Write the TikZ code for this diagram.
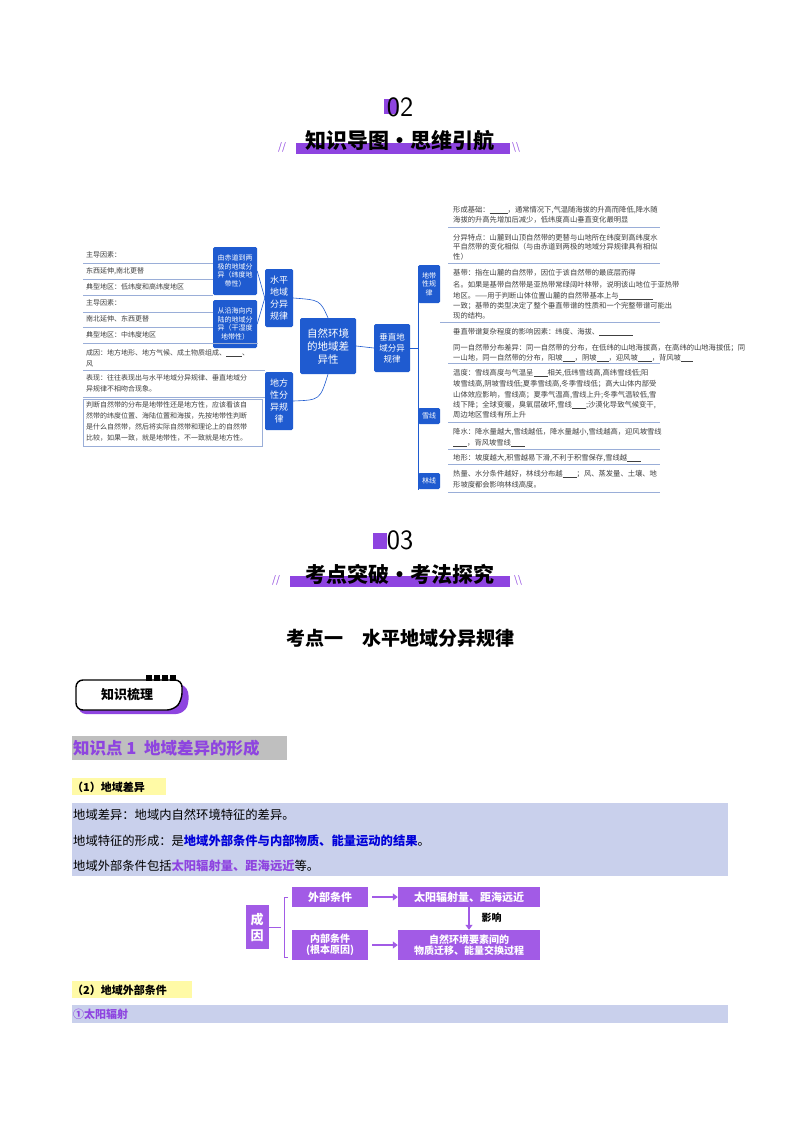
\documentclass[tikz,border=0pt]{standalone}
\usepackage{fontspec}
\setmainfont{Noto Sans CJK SC}
\usetikzlibrary{arrows.meta}
\definecolor{mb}{HTML}{1F5BD0}
\definecolor{pu}{HTML}{8E44E0}
\definecolor{fp}{HTML}{A25BE6}
\definecolor{lav}{HTML}{C9D0EC}
\definecolor{ln}{HTML}{9AAED8}
\newcommand\bk[1]{\rule[-1pt]{#1pt}{0.5pt}}
\begin{document}
\begin{tikzpicture}[x=1pt,y=-1pt,
  tl/.style={anchor=west,inner sep=0pt,font=\fontsize{7}{8}\selectfont,text=black!75},
  tr/.style={anchor=west,inner sep=0pt,font=\fontsize{7.3}{8}\selectfont,text=black!75},
  bb/.style={fill=mb,text=white,rounded corners=1.5pt,align=center,inner sep=1pt,font=\fontsize{7}{8.5}\selectfont},
  sep/.style={draw=ln,line width=0.5pt},
  fb/.style={fill=fp,text=white,align=center,inner sep=0pt,font=\bfseries\fontsize{11}{12.5}\selectfont},
  bt/.style={anchor=west,inner sep=0pt,font=\fontsize{12.3}{14}\selectfont}]
\useasboundingbox (0,0) rectangle (800,1132);
\fill[white] (0,0) rectangle (800,1132);

% ===== heading 02 =====
\fill[pu] (384,99) rectangle (397,114);
\node (n02) at (400,107) {\fontsize{28}{28}\selectfont\textsf{02}};
\fill[pu] (296,143) rectangle (510,154);
\node (h02) at (400,141) {\bfseries\fontsize{21}{22}\selectfont 知识导图·思维引航};
\node (sl1) at (282,147) {\textcolor{pu}{\fontsize{10}{10}\selectfont\textit{//}}};
\node (sl2) at (516,147) {\textcolor{pu}{\fontsize{10}{10}\selectfont\textit{\textbackslash\textbackslash}}};

% ===== mind map center =====
\node[bb,minimum width=56pt,minimum height=56pt,font=\fontsize{10.5}{13}\selectfont] (c) at (328,346) {自然环境\\的地域差\\异性};
\node[bb,minimum width=28pt,minimum height=58pt,font=\fontsize{9}{12}\selectfont] (hz) at (279,298) {水平\\地域\\分异\\规律};
\node[bb,minimum width=28pt,minimum height=58pt,font=\fontsize{9}{12}\selectfont] (df) at (279,401) {地方\\性分\\异规\\律};
\node[bb,minimum width=36pt,minimum height=48pt,font=\fontsize{8.5}{11}\selectfont] (cz) at (392,348) {垂直地\\域分异\\规律};
\node[bb,minimum width=44pt,minimum height=48pt] (wd) at (235,271) {由赤道到两\\极的地域分\\异（纬度地\\带性）};
\node[bb,minimum width=44pt,minimum height=48pt] (gs) at (235,324) {从沿海向内\\陆的地域分\\异（干湿度\\地带性）};
\draw[mb,line width=0.6pt] (hz.east) .. controls (320,300) .. (c.north);
\draw[mb,line width=0.6pt] (df.east) .. controls (320,400) .. (c.south);
\draw[mb,line width=0.6pt] (c.east) -- (cz.west);
\draw[mb,line width=0.6pt] (wd.east) -- (hz.west);
\draw[mb,line width=0.6pt] (gs.east) -- (hz.west);

% left texts
\node[tl] (l1) at (86,255) {主导因素：};
\node[tl] (l2) at (86,271) {东西延伸,南北更替};
\node[tl] (l3) at (86,287) {典型地区：低纬度和高纬度地区};
\node[tl] (l4) at (86,303) {主导因素：};
\node[tl] (l5) at (86,319) {南北延伸、东西更替};
\node[tl] (l6) at (86,335) {典型地区：中纬度地区};
\draw[sep] (83,263) -- (213,263); \draw[sep] (83,279) -- (213,279);
\draw[sep] (83,295) -- (213,295); \draw[sep] (83,312) -- (213,312);
\draw[sep] (83,327) -- (213,327); \draw[sep] (83,343) -- (258,343);
\node[tl] (l7) at (86,353) {成因：地方地形、地方气候、成土物质组成、\bk{16}、};
\node[tl] (l8) at (86,364) {风};
\draw[sep] (83,370) -- (265,370);
\node[tl] (l9) at (86,378) {表现：往往表现出与水平地域分异规律、垂直地域分};
\node[tl] (l10) at (86,389) {异规律不相吻合现象。};
\draw[sep] (83,397) -- (265,397);
\node[tl] (l11) at (86,405) {判断自然带的分布是地带性还是地方性，应该看该自};
\node[tl] (l12) at (86,416) {然带的纬度位置、海陆位置和海拔，先按地带性判断};
\node[tl] (l13) at (86,427) {是什么自然带，然后将实际自然带和理论上的自然带};
\node[tl] (l14) at (86,438) {比较，如果一致，就是地带性，不一致就是地方性。};
\draw[sep] (83,399) rectangle (262,446);

% right side
\draw[mb,line width=0.6pt] (418,266) -- (418,490);
\draw[mb,line width=0.6pt] (cz.east) -- (418,348);
\node[bb,minimum width=22pt,minimum height=38pt] (dd) at (429,284) {地带\\性规\\律};
\node[bb,minimum width=22pt,minimum height=16pt] (xx) at (429,416) {雪线};
\node[bb,minimum width=22pt,minimum height=16pt] (lx) at (429,481) {林线};
\node[tr] (r1) at (453,210) {形成基础：\bk{18}，通常情况下,气温随海拔的升高而降低,降水随};
\node[tr] (r2) at (453,220) {海拔的升高先增加后减少，低纬度高山垂直变化最明显};
\draw[sep] (448,227) -- (660,227);
\node[tr] (r3) at (453,238) {分异特点：山麓到山顶自然带的更替与山地所在纬度到高纬度水};
\node[tr] (r4) at (453,247) {平自然带的变化相似（与由赤道到两极的地域分异规律具有相似};
\node[tr] (r5) at (453,257) {性）};
\draw[sep] (448,263) -- (660,263);
\node[tr] (r6) at (453,273) {基带：指在山麓的自然带，因位于该自然带的最底层而得};
\node[tr] (r7) at (453,285) {名。如果是基带自然带是亚热带常绿阔叶林带，说明该山地位于亚热带};
\node[tr] (r8) at (453,296) {地区。——用于判断山体位置山麓的自然带基本上与\bk{34}};
\node[tr] (r9) at (453,306) {一致；基带的类型决定了整个垂直带谱的性质和一个完整带谱可能出};
\node[tr] (r10) at (453,316) {现的结构。};
\draw[sep] (440,322) -- (660,322);
\node[tr] (r11) at (453,332) {垂直带谱复杂程度的影响因素：纬度、海拔、\bk{34}};
\node[tr] (r12) at (453,348) {同一自然带分布差异：同一自然带的分布，在低纬的山地海拔高，在高纬的山地海拔低；同};
\node[tr] (r13) at (453,358) {一山地，同一自然带的分布，阳坡\bk{12}，阴坡\bk{12}，迎风坡\bk{14}，背风坡\bk{12}};
\draw[sep] (448,363) -- (660,363);
\node[tr] (r14) at (453,373) {温度：雪线高度与气温呈\bk{14}相关,低纬雪线高,高纬雪线低;阳};
\node[tr] (r15) at (453,384) {坡雪线高,阴坡雪线低;夏季雪线高,冬季雪线低；高大山体内部受};
\node[tr] (r16) at (453,395) {山体效应影响，雪线高；夏季气温高,雪线上升;冬季气温较低,雪};
\node[tr] (r17) at (453,405) {线下降；全球变暖，臭氧层破坏,雪线\bk{14};沙漠化导致气候变干,};
\node[tr] (r18) at (453,415) {周边地区雪线有所上升};
\draw[sep] (448,422) -- (660,422);
\node[tr] (r19) at (453,432) {降水：降水量越大,雪线越低，降水量越小,雪线越高，迎风坡雪线};
\node[tr] (r20) at (453,443) {\bk{14}，背风坡雪线\bk{14}};
\draw[sep] (448,449) -- (660,449);
\node[tr] (r21) at (453,458) {地形：坡度越大,积雪越易下滑,不利于积雪保存,雪线越\bk{14}};
\draw[sep] (448,464) -- (660,464);
\node[tr] (r22) at (453,474) {热量、水分条件越好，林线分布越\bk{14}；风、蒸发量、土壤、地};
\node[tr] (r23) at (453,485) {形坡度都会影响林线高度。};
\draw[sep] (448,492) -- (660,492);

% ===== heading 03 =====
\fill[pu] (373,533) rectangle (387,549);
\node (n03) at (400,540) {\fontsize{28}{28}\selectfont\textsf{03}};
\fill[pu] (290,576) rectangle (510,587);
\node (h03) at (400,574) {\bfseries\fontsize{21}{22}\selectfont 考点突破·考法探究};
\node (sl3) at (276,580) {\textcolor{pu}{\fontsize{10}{10}\selectfont\textit{//}}};
\node (sl4) at (518,580) {\textcolor{pu}{\fontsize{10}{10}\selectfont\textit{\textbackslash\textbackslash}}};
\node (kd) at (400,638) {\bfseries\fontsize{19}{21}\selectfont 考点一\quad 水平地域分异规律};

% 知识梳理 badge
\fill[pu,rounded corners=8pt] (80,684) -- (186,684) -- (190,700) -- (184,714) -- (78,714) -- cycle;
\draw[line width=1.4pt,fill=white,rounded corners=7pt] (76,680) -- (182,680) -- (182,700) -- (174,710) -- (76,710) -- cycle;
\foreach \i in {0,1,2,3}{\fill[black] (146+\i*8,675) rectangle (152+\i*8,681);}
\node (zs) at (127,695) {\bfseries\fontsize{13}{14}\selectfont 知识梳理};

% 知识点1
\fill[black!25] (72,736) rectangle (287,760);
\node[anchor=west,inner sep=0pt] (zd) at (73,748) {\bfseries\fontsize{16.5}{18}\selectfont\textcolor{pu}{知识点 1\ \ 地域差异的形成}};

\fill[yellow!35] (72,778) rectangle (166,795);
\node[anchor=west,inner sep=0pt] (s1) at (72,787) {\bfseries\fontsize{11}{12}\selectfont（1）地域差异};

\fill[lav] (72,803) rectangle (728,876);
\node[bt] (b1) at (73,815) {地域差异：地域内自然环境特征的差异。};
\node[bt] (b2) at (73,841) {地域特征的形成：是\textcolor{blue!85!black}{\bfseries 地域外部条件与内部物质、能量运动的结果}。};
\node[bt] (b3) at (73,866) {地域外部条件包括\textcolor{pu}{\bfseries 太阳辐射量、距海远近}等。};

% flow chart
\node[fb,minimum width=23pt,minimum height=44pt,font=\bfseries\fontsize{13}{16}\selectfont] (cy) at (257,927) {成\\因};
\node[fb,minimum width=76pt,minimum height=20pt] (wb) at (330,897) {外部条件};
\node[fb,minimum width=76pt,minimum height=30pt,font=\bfseries\fontsize{10}{11}\selectfont] (nb) at (330,945) {内部条件\\(根本原因)};
\node[fb,minimum width=142pt,minimum height=20pt] (ty) at (469,897) {太阳辐射量、距海远近};
\node[fb,minimum width=142pt,minimum height=30pt,font=\bfseries\fontsize{10}{11}\selectfont] (zr) at (469,945) {自然环境要素间的\\物质迁移、能量交换过程};
\draw[fp,line width=0.8pt] (cy.east) -- (281,927);
\draw[fp,line width=0.8pt] (288,897) -- (284,897) -- (284,957) -- (288,957);
\draw[fp,line width=2pt,-{Triangle[length=5pt,width=7pt]}] (wb.east) ++(4,0) -- (ty.west);
\draw[fp,line width=2pt,-{Triangle[length=5pt,width=7pt]}] (nb.east) ++(4,0) -- (zr.west);
\draw[fp,line width=2pt,-{Triangle[length=5pt,width=7pt]}] (469,907) -- (zr.north);
\node[anchor=west] (yx) at (478,918) {\bfseries\fontsize{10}{11}\selectfont 影响};

\fill[yellow!35] (72,981) rectangle (192,998);
\node[anchor=west,inner sep=0pt] (s2) at (72,990) {\bfseries\fontsize{11}{12}\selectfont（2）地域外部条件};
\fill[lav] (72,1005) rectangle (728,1023);
\node[anchor=west,inner sep=0pt] (s3) at (73,1014) {\bfseries\fontsize{11}{12}\selectfont\textcolor{pu}{①太阳辐射}};
\end{tikzpicture}
\end{document}
